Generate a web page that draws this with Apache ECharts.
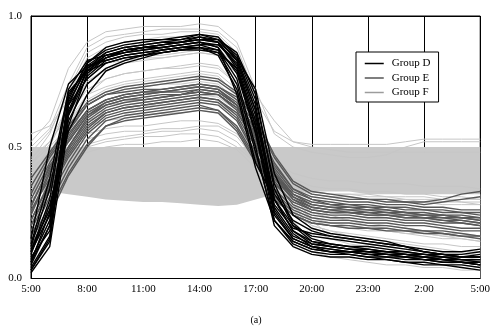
<!DOCTYPE html>
<html>
<head>
<meta charset="utf-8">
<script src="https://cdn.jsdelivr.net/npm/echarts@6/dist/echarts.min.js"></script>
<style>
  html, body { margin: 0; padding: 0; background: #fff; }
  #chart { width: 493px; height: 327px; }
</style>
</head>
<body>
<div id="chart"></div>
<script>
// hours since 5:00, one point per hour
var hours = [0,1,2,3,4,5,6,7,8,9,10,11,12,13,14,15,16,17,18,19,20,21,22,23,24];
var xTickLabels = ['5:00','8:00','11:00','14:00','17:00','20:00','23:00','2:00','5:00'];
var yTickLabels = ['0.0','0.5','1.0'];

// Group D (black)
var groupD = [
  [0.03,0.15,0.62,0.80,0.86,0.88,0.89,0.90,0.91,0.93,0.92,0.84,0.66,0.30,0.18,0.14,0.13,0.12,0.11,0.10,0.09,0.08,0.07,0.06,0.05],
  [0.05,0.20,0.68,0.82,0.87,0.89,0.90,0.91,0.91,0.92,0.90,0.80,0.58,0.25,0.15,0.12,0.11,0.10,0.10,0.09,0.09,0.08,0.08,0.07,0.07],
  [0.10,0.30,0.72,0.83,0.85,0.86,0.87,0.88,0.89,0.90,0.88,0.78,0.55,0.22,0.13,0.10,0.09,0.09,0.08,0.08,0.07,0.07,0.06,0.06,0.05],
  [0.02,0.12,0.58,0.78,0.84,0.86,0.88,0.89,0.90,0.91,0.91,0.86,0.70,0.34,0.20,0.16,0.15,0.14,0.13,0.12,0.11,0.10,0.09,0.09,0.10],
  [0.15,0.50,0.74,0.81,0.83,0.85,0.86,0.87,0.88,0.89,0.87,0.76,0.50,0.20,0.12,0.09,0.08,0.08,0.07,0.07,0.06,0.06,0.05,0.05,0.04],
  [0.06,0.25,0.66,0.76,0.82,0.84,0.85,0.87,0.88,0.89,0.89,0.82,0.62,0.28,0.19,0.17,0.16,0.15,0.14,0.13,0.12,0.11,0.10,0.10,0.11],
  [0.08,0.18,0.60,0.74,0.80,0.83,0.85,0.86,0.87,0.88,0.86,0.74,0.48,0.22,0.14,0.11,0.10,0.10,0.09,0.08,0.08,0.07,0.07,0.06,0.06],
  [0.12,0.34,0.70,0.80,0.84,0.87,0.88,0.89,0.90,0.91,0.90,0.81,0.60,0.32,0.22,0.18,0.16,0.15,0.14,0.13,0.12,0.10,0.09,0.08,0.08],
  [0.04,0.16,0.64,0.79,0.85,0.87,0.88,0.88,0.89,0.90,0.89,0.83,0.64,0.26,0.16,0.13,0.12,0.11,0.11,0.10,0.10,0.09,0.09,0.08,0.08],
  [0.09,0.28,0.56,0.70,0.79,0.82,0.84,0.86,0.87,0.88,0.87,0.79,0.56,0.24,0.15,0.12,0.11,0.10,0.09,0.09,0.08,0.08,0.07,0.07,0.07],
  [0.07,0.22,0.69,0.82,0.88,0.90,0.91,0.91,0.92,0.93,0.91,0.85,0.68,0.36,0.21,0.15,0.13,0.12,0.12,0.11,0.10,0.09,0.08,0.07,0.06],
  [0.11,0.26,0.62,0.77,0.83,0.85,0.86,0.87,0.88,0.88,0.85,0.72,0.44,0.30,0.20,0.14,0.12,0.11,0.10,0.10,0.09,0.09,0.08,0.08,0.09],
  [0.03,0.14,0.66,0.81,0.86,0.88,0.89,0.90,0.90,0.91,0.90,0.84,0.72,0.40,0.24,0.19,0.17,0.16,0.15,0.14,0.12,0.10,0.09,0.08,0.08],
  [0.13,0.38,0.71,0.79,0.82,0.84,0.85,0.86,0.87,0.87,0.86,0.80,0.58,0.27,0.17,0.12,0.10,0.09,0.08,0.07,0.06,0.05,0.05,0.04,0.03],
  [0.06,0.20,0.63,0.79,0.84,0.86,0.87,0.88,0.89,0.90,0.88,0.70,0.42,0.22,0.14,0.11,0.10,0.10,0.09,0.09,0.08,0.07,0.06,0.06,0.05],
  [0.10,0.24,0.67,0.80,0.85,0.87,0.88,0.89,0.90,0.92,0.91,0.83,0.64,0.30,0.18,0.13,0.12,0.11,0.10,0.09,0.09,0.08,0.07,0.07,0.07]
];

// Group E (dark gray)
var groupE = [
  [0.20,0.35,0.48,0.58,0.63,0.65,0.66,0.67,0.68,0.69,0.68,0.62,0.50,0.36,0.29,0.26,0.25,0.25,0.24,0.24,0.23,0.23,0.22,0.21,0.20],
  [0.28,0.42,0.54,0.64,0.68,0.70,0.71,0.72,0.73,0.74,0.73,0.68,0.56,0.42,0.33,0.30,0.29,0.28,0.28,0.27,0.27,0.26,0.26,0.25,0.25],
  [0.14,0.28,0.42,0.53,0.60,0.62,0.63,0.64,0.65,0.66,0.64,0.58,0.46,0.32,0.25,0.22,0.21,0.21,0.20,0.20,0.19,0.18,0.18,0.17,0.16],
  [0.32,0.46,0.56,0.66,0.70,0.72,0.73,0.74,0.75,0.76,0.75,0.70,0.60,0.46,0.36,0.32,0.31,0.30,0.30,0.29,0.29,0.28,0.29,0.30,0.31],
  [0.24,0.40,0.52,0.62,0.66,0.68,0.69,0.70,0.70,0.71,0.70,0.65,0.53,0.38,0.30,0.27,0.26,0.26,0.25,0.25,0.24,0.24,0.23,0.23,0.22],
  [0.18,0.33,0.46,0.56,0.62,0.64,0.65,0.66,0.67,0.68,0.67,0.61,0.48,0.34,0.27,0.24,0.23,0.23,0.22,0.22,0.21,0.21,0.20,0.19,0.19],
  [0.26,0.38,0.50,0.60,0.65,0.67,0.68,0.69,0.70,0.72,0.71,0.66,0.55,0.40,0.31,0.28,0.27,0.27,0.26,0.26,0.25,0.24,0.24,0.23,0.23],
  [0.12,0.26,0.40,0.51,0.58,0.61,0.62,0.63,0.64,0.65,0.64,0.57,0.45,0.30,0.24,0.21,0.20,0.19,0.19,0.18,0.18,0.17,0.17,0.16,0.15],
  [0.35,0.47,0.57,0.66,0.70,0.71,0.72,0.72,0.73,0.74,0.73,0.69,0.58,0.44,0.34,0.31,0.30,0.29,0.29,0.28,0.28,0.27,0.27,0.26,0.26],
  [0.22,0.36,0.49,0.59,0.64,0.66,0.67,0.68,0.69,0.70,0.70,0.64,0.51,0.37,0.28,0.25,0.24,0.24,0.23,0.23,0.22,0.22,0.21,0.21,0.20],
  [0.16,0.31,0.44,0.55,0.61,0.63,0.64,0.65,0.66,0.67,0.66,0.60,0.47,0.33,0.26,0.23,0.22,0.22,0.21,0.21,0.20,0.20,0.19,0.18,0.18],
  [0.30,0.44,0.55,0.64,0.68,0.70,0.71,0.71,0.72,0.73,0.72,0.67,0.57,0.43,0.34,0.30,0.28,0.28,0.27,0.27,0.26,0.26,0.25,0.25,0.24],
  [0.20,0.34,0.47,0.57,0.63,0.65,0.66,0.67,0.68,0.69,0.68,0.63,0.52,0.39,0.31,0.27,0.26,0.25,0.25,0.24,0.24,0.23,0.23,0.22,0.21],
  [0.25,0.41,0.53,0.63,0.67,0.69,0.70,0.71,0.72,0.73,0.72,0.66,0.54,0.40,0.32,0.29,0.28,0.27,0.27,0.26,0.25,0.25,0.24,0.24,0.23],
  [0.10,0.24,0.39,0.50,0.58,0.60,0.61,0.62,0.63,0.64,0.63,0.56,0.44,0.31,0.24,0.21,0.20,0.20,0.19,0.19,0.18,0.18,0.17,0.16,0.16],
  [0.38,0.48,0.58,0.67,0.71,0.73,0.74,0.75,0.76,0.77,0.76,0.71,0.61,0.47,0.37,0.33,0.32,0.31,0.30,0.30,0.29,0.29,0.30,0.32,0.33],
  [0.22,0.37,0.50,0.61,0.66,0.68,0.68,0.69,0.70,0.71,0.70,0.65,0.54,0.41,0.32,0.28,0.27,0.26,0.26,0.25,0.25,0.24,0.24,0.23,0.22],
  [0.27,0.43,0.52,0.62,0.67,0.69,0.70,0.71,0.71,0.72,0.71,0.66,0.55,0.39,0.30,0.26,0.25,0.25,0.24,0.24,0.23,0.23,0.22,0.22,0.21]
];

// Group F (light gray)
var groupF = [
  [0.52,0.60,0.80,0.90,0.94,0.95,0.96,0.96,0.96,0.97,0.96,0.90,0.72,0.55,0.50,0.48,0.47,0.46,0.46,0.47,0.50,0.52,0.52,0.52,0.52],
  [0.45,0.55,0.72,0.86,0.90,0.92,0.93,0.93,0.94,0.94,0.93,0.86,0.62,0.45,0.38,0.35,0.34,0.34,0.33,0.33,0.32,0.32,0.31,0.31,0.30],
  [0.40,0.50,0.66,0.80,0.85,0.87,0.88,0.89,0.90,0.90,0.88,0.80,0.58,0.40,0.30,0.25,0.23,0.22,0.21,0.20,0.19,0.18,0.17,0.17,0.16],
  [0.38,0.46,0.62,0.75,0.80,0.82,0.83,0.84,0.85,0.86,0.85,0.78,0.55,0.35,0.22,0.14,0.12,0.11,0.10,0.09,0.08,0.07,0.06,0.05,0.04],
  [0.35,0.44,0.58,0.70,0.76,0.78,0.79,0.80,0.81,0.82,0.81,0.74,0.52,0.30,0.18,0.10,0.08,0.07,0.06,0.05,0.05,0.04,0.04,0.03,0.03],
  [0.42,0.48,0.60,0.68,0.72,0.74,0.75,0.76,0.77,0.78,0.77,0.70,0.50,0.33,0.25,0.20,0.18,0.17,0.16,0.15,0.14,0.13,0.13,0.12,0.12],
  [0.36,0.43,0.55,0.64,0.68,0.70,0.71,0.72,0.73,0.73,0.72,0.66,0.50,0.38,0.32,0.29,0.28,0.27,0.26,0.26,0.25,0.25,0.24,0.24,0.23],
  [0.44,0.50,0.58,0.62,0.64,0.66,0.67,0.68,0.69,0.70,0.69,0.64,0.52,0.42,0.36,0.33,0.32,0.32,0.31,0.31,0.30,0.30,0.30,0.29,0.29],
  [0.40,0.46,0.52,0.58,0.60,0.61,0.62,0.63,0.63,0.64,0.63,0.58,0.48,0.40,0.35,0.32,0.31,0.31,0.30,0.30,0.30,0.29,0.29,0.29,0.28],
  [0.33,0.40,0.50,0.55,0.57,0.58,0.58,0.59,0.60,0.60,0.59,0.55,0.46,0.38,0.34,0.32,0.31,0.30,0.30,0.30,0.29,0.29,0.28,0.28,0.28],
  [0.46,0.52,0.62,0.72,0.76,0.78,0.79,0.80,0.80,0.81,0.80,0.74,0.56,0.40,0.31,0.27,0.26,0.25,0.24,0.23,0.22,0.22,0.21,0.21,0.20],
  [0.55,0.58,0.68,0.78,0.83,0.85,0.86,0.86,0.87,0.88,0.87,0.82,0.68,0.56,0.52,0.51,0.51,0.51,0.51,0.51,0.52,0.53,0.53,0.53,0.53],
  [0.37,0.45,0.56,0.66,0.70,0.72,0.73,0.74,0.74,0.75,0.74,0.68,0.52,0.36,0.26,0.20,0.18,0.16,0.15,0.14,0.13,0.12,0.11,0.10,0.10],
  [0.34,0.41,0.48,0.53,0.55,0.56,0.56,0.57,0.57,0.58,0.58,0.54,0.45,0.36,0.30,0.27,0.26,0.26,0.25,0.25,0.24,0.24,0.23,0.23,0.22],
  [0.43,0.51,0.64,0.76,0.82,0.84,0.85,0.85,0.86,0.87,0.86,0.80,0.60,0.42,0.28,0.18,0.15,0.13,0.12,0.11,0.10,0.09,0.08,0.07,0.06],
  [0.30,0.36,0.42,0.50,0.52,0.53,0.54,0.54,0.55,0.55,0.54,0.50,0.44,0.38,0.35,0.33,0.32,0.32,0.32,0.31,0.31,0.31,0.30,0.30,0.30],
  [0.39,0.47,0.60,0.70,0.73,0.75,0.76,0.77,0.78,0.79,0.78,0.72,0.54,0.38,0.28,0.23,0.21,0.20,0.19,0.18,0.17,0.16,0.15,0.15,0.14],
  [0.48,0.56,0.70,0.84,0.88,0.90,0.91,0.92,0.92,0.93,0.92,0.85,0.64,0.46,0.34,0.27,0.24,0.22,0.20,0.19,0.18,0.17,0.16,0.15,0.14],
  [0.41,0.48,0.57,0.63,0.66,0.67,0.68,0.69,0.70,0.71,0.70,0.65,0.54,0.44,0.40,0.38,0.37,0.37,0.36,0.36,0.36,0.35,0.35,0.35,0.34],
  [0.32,0.38,0.46,0.51,0.53,0.54,0.55,0.56,0.56,0.57,0.56,0.52,0.44,0.30,0.20,0.15,0.13,0.12,0.11,0.10,0.09,0.09,0.08,0.08,0.07],
  [0.50,0.57,0.74,0.88,0.92,0.93,0.94,0.95,0.95,0.95,0.94,0.88,0.70,0.60,0.52,0.50,0.49,0.48,0.48,0.48,0.48,0.48,0.48,0.48,0.48],
  [0.36,0.42,0.53,0.60,0.63,0.65,0.66,0.66,0.67,0.68,0.67,0.62,0.50,0.36,0.27,0.22,0.20,0.19,0.18,0.18,0.17,0.17,0.16,0.16,0.16],
  [0.44,0.52,0.66,0.78,0.82,0.83,0.84,0.84,0.85,0.86,0.85,0.79,0.62,0.44,0.32,0.22,0.16,0.14,0.13,0.12,0.11,0.10,0.09,0.09,0.09],
  [0.31,0.37,0.44,0.48,0.50,0.51,0.51,0.52,0.52,0.53,0.52,0.49,0.42,0.34,0.29,0.26,0.25,0.24,0.23,0.23,0.22,0.22,0.22,0.21,0.21]
];

// dense light-gray band: lower edge, filled up to 0.5
var bandLow = [0.32,0.33,0.32,0.31,0.30,0.295,0.29,0.29,0.285,0.28,0.275,0.28,0.30,0.32,0.33,0.33,0.33,0.33,0.32,0.32,0.32,0.32,0.32,0.32,0.32];
var bandTop = 0.5;

var serif = '"Liberation Serif", "DejaVu Serif", serif';

function pairs(vals) {
  return vals.map(function (v, i) { return [hours[i], v]; });
}

var series = [];
// gray area from 0 up to 0.5, then white area from 0 up to the band's lower edge
series.push({
  name: 'bandTop', type: 'line', symbol: 'none', silent: true,
  data: pairs(hours.map(function () { return bandTop; })),
  lineStyle: { opacity: 0 },
  areaStyle: { color: '#c9c9c9', opacity: 1 }
});
series.push({
  name: 'bandLow', type: 'line', symbol: 'none', silent: true,
  data: pairs(bandLow),
  lineStyle: { opacity: 0 },
  areaStyle: { color: '#fff', opacity: 1 }
});
groupF.forEach(function (d) {
  series.push({ name: 'Group F', type: 'line', symbol: 'none', data: pairs(d),
    lineStyle: { color: '#c6c6c6', width: 1 }, itemStyle: { color: '#c6c6c6' } });
});
groupE.forEach(function (d) {
  series.push({ name: 'Group E', type: 'line', symbol: 'none', data: pairs(d),
    lineStyle: { color: '#585858', width: 1.4 }, itemStyle: { color: '#585858' } });
});
groupD.forEach(function (d) {
  series.push({ name: 'Group D', type: 'line', symbol: 'none', data: pairs(d),
    lineStyle: { color: '#000', width: 1.4 }, itemStyle: { color: '#000' } });
});

var myChart = echarts.init(document.getElementById('chart'));
myChart.setOption({
  animation: false,
  grid: {
    left: 31, right: 10, top: 16, bottom: 49,
    show: true, borderColor: '#000', borderWidth: 1
  },
  legend: {
    orient: 'vertical',
    left: 356, top: 52,
    padding: [6, 8, 4, 8],
    itemWidth: 19, itemHeight: 10, itemGap: 3.5,
    backgroundColor: '#fff',
    borderColor: '#000', borderWidth: 1,
    textStyle: { fontFamily: serif, fontSize: 11, color: '#000', padding: [0, 0, 0, 3] },
    data: [
      { name: 'Group D', itemStyle: { opacity: 0 }, lineStyle: { color: '#000', width: 1.5 } },
      { name: 'Group E', itemStyle: { opacity: 0 }, lineStyle: { color: '#555', width: 1.5 } },
      { name: 'Group F', itemStyle: { opacity: 0 }, lineStyle: { color: '#9c9c9c', width: 1.5 } }
    ]
  },
  xAxis: {
    type: 'value', min: 0, max: 24, interval: 3, z: 3,
    axisLine: { show: true, lineStyle: { color: '#000', width: 1 } },
    axisTick: { show: false },
    splitLine: { show: true, lineStyle: { color: '#000', width: 1 } },
    axisLabel: {
      margin: 6, color: '#000', fontFamily: serif, fontSize: 11,
      formatter: function (v) { return xTickLabels[Math.round(v / 3)]; }
    }
  },
  yAxis: {
    type: 'value', min: 0, max: 1, interval: 0.5, z: 3,
    axisLine: { show: true, lineStyle: { color: '#000', width: 1 } },
    axisTick: { show: false },
    splitLine: { show: true, lineStyle: { color: '#000', width: 1 } },
    axisLabel: {
      margin: 9, color: '#000', fontFamily: serif, fontSize: 11,
      formatter: function (v) { return yTickLabels[Math.round(v / 0.5)]; }
    }
  },
  graphic: [{
    type: 'text', x: 256, y: 320,
    style: { text: '(a)', fontFamily: serif, fontSize: 10, fill: '#000', align: 'center', verticalAlign: 'middle' }
  }],
  series: series
});
window.addEventListener('resize', function () { myChart.resize(); });
</script>
</body>
</html>
